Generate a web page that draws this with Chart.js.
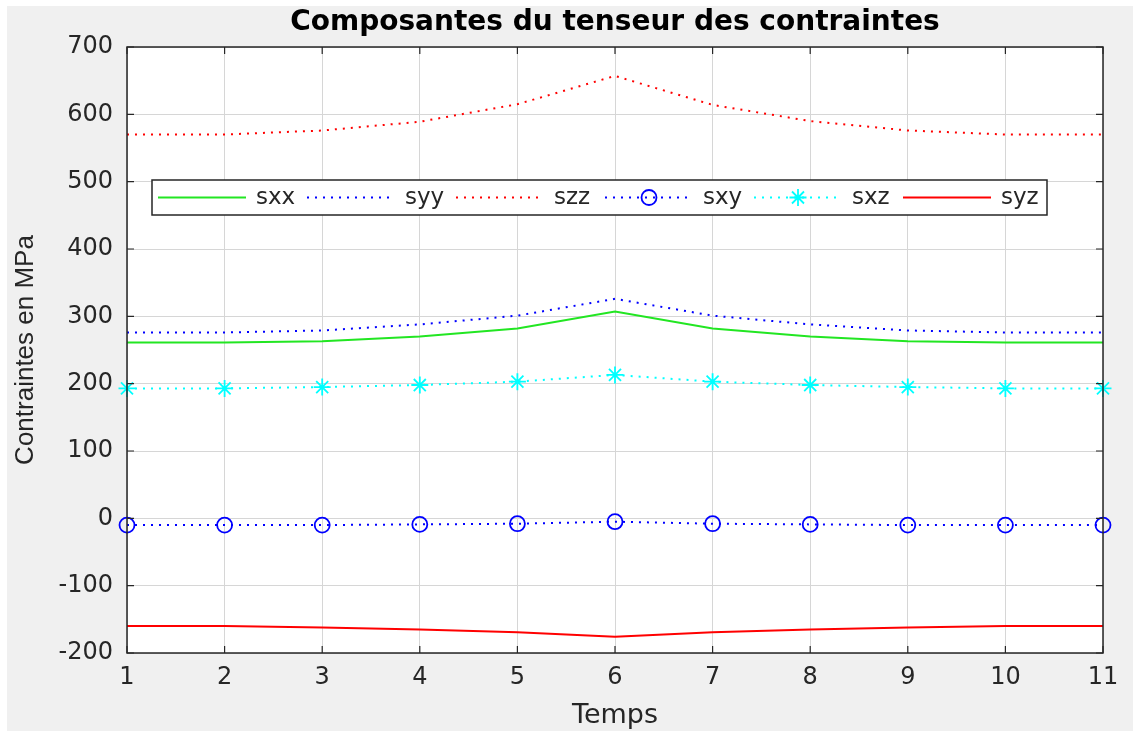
<!DOCTYPE html>
<html>
<head>
<meta charset="utf-8">
<script src="https://cdn.jsdelivr.net/npm/chart.js@4.4.1/dist/chart.umd.min.js"></script>
<style>
  html, body { margin: 0; padding: 0; background: #ffffff; }
  #wrap { position: absolute; left: 7px; top: 6px; width: 1126px; height: 725px; background: #f0f0f0; }
</style>
</head>
<body>
<div id="wrap"><canvas id="chart" width="1126" height="725"></canvas></div>
<script>
// --- DATA ---
const temps = [1, 2, 3, 4, 5, 6, 7, 8, 9, 10, 11];
const sxx = [261, 261, 263, 270, 282, 307, 282, 270, 263, 261, 261];
const syy = [276, 276, 279, 288, 301, 326, 301, 288, 279, 276, 276];
const szz = [570, 570, 576, 589, 615, 657, 614, 590, 576, 570, 570];
const sxy = [-10, -10, -10, -9, -8, -5, -8, -9, -10, -10, -10];
const sxz = [193, 193, 195, 198, 203, 213, 203, 198, 195, 193, 193];
const syz = [-160, -160, -162, -165, -169, -176, -169, -165, -162, -160, -160];
const yTicks = [-200, -100, 0, 100, 200, 300, 400, 500, 600, 700];

const titleText = "Composantes du tenseur des contraintes";
const xLabel = "Temps";
const yLabel = "Contraintes en MPa";

const DOT = [2, 6];

// draws the MATLAB-like frame, titles and the inline legend
const decorPlugin = {
    id: "decor",
    beforeDraw(chart) {
        const ctx = chart.ctx;
        const a = chart.chartArea;
        ctx.save();
        ctx.fillStyle = "#f0f0f0";
        ctx.fillRect(0, 0, chart.width, chart.height);
        ctx.fillStyle = "#ffffff";
        ctx.fillRect(a.left, a.top, a.right - a.left, a.bottom - a.top);
        ctx.restore();
    },
    afterDraw(chart) {
        const ctx = chart.ctx;
        const a = chart.chartArea;
        const xs = chart.scales.x;
        const ys = chart.scales.y;
        ctx.save();

        // inner tick marks
        ctx.strokeStyle = "#262626";
        ctx.lineWidth = 1.2;
        const tl = 7;
        ctx.beginPath();
        temps.forEach((t, i) => {
            const px = xs.getPixelForValue(i);
            ctx.moveTo(px, a.bottom); ctx.lineTo(px, a.bottom - tl);
            ctx.moveTo(px, a.top); ctx.lineTo(px, a.top + tl);
        });
        yTicks.forEach(v => {
            const py = ys.getPixelForValue(v);
            ctx.moveTo(a.left, py); ctx.lineTo(a.left + tl, py);
            ctx.moveTo(a.right, py); ctx.lineTo(a.right - tl, py);
        });
        ctx.stroke();

        // frame
        ctx.lineWidth = 1.5;
        ctx.strokeRect(a.left, a.top, a.right - a.left, a.bottom - a.top);

        // title and axis labels
        ctx.fillStyle = "#000000";
        ctx.textAlign = "center";
        ctx.textBaseline = "middle";
        ctx.font = "bold 28px 'DejaVu Sans'";
        ctx.fillText(titleText, (a.left + a.right) / 2, 17);

        ctx.fillStyle = "#262626";
        ctx.font = "27px 'DejaVu Sans'";
        ctx.fillText(xLabel, (a.left + a.right) / 2, 710);

        ctx.save();
        ctx.translate(19, (a.top + a.bottom) / 2);
        ctx.rotate(-Math.PI / 2);
        ctx.font = "26px 'Liberation Sans'";
        ctx.fillText(yLabel, 0, 0);
        ctx.restore();

        // legend box
        const bx = 145, by = 174, bw = 895, bh = 35;
        ctx.fillStyle = "#ffffff";
        ctx.fillRect(bx, by, bw, bh);
        ctx.strokeStyle = "#262626";
        ctx.lineWidth = 1.5;
        ctx.strokeRect(bx, by, bw, bh);

        const cy = by + bh / 2;
        chart.data.datasets.forEach((ds, i) => {
            const x0 = 151 + i * 149;
            ctx.save();
            ctx.strokeStyle = ds.borderColor;
            ctx.lineWidth = ds.borderWidth;
            ctx.setLineDash(ds.borderDash || []);
            ctx.beginPath();
            ctx.moveTo(x0, cy);
            ctx.lineTo(x0 + 88, cy);
            ctx.stroke();
            ctx.restore();
            if (ds.pointRadius > 0) {
                ctx.save();
                ctx.strokeStyle = ds.borderColor;
                ctx.fillStyle = "rgba(0,0,0,0)";
                ctx.lineWidth = ds.pointBorderWidth;
                Chart.helpers.drawPoint(ctx, {
                    pointStyle: ds.pointStyle,
                    radius: ds.pointRadius,
                    borderWidth: ds.pointBorderWidth,
                    rotation: 0
                }, x0 + 44, cy);
                ctx.restore();
            }
            ctx.fillStyle = "#262626";
            ctx.textAlign = "left";
            ctx.font = "23px 'DejaVu Sans'";
            ctx.fillText(ds.label, x0 + 98, cy + 1);
        });

        ctx.restore();
    }
};

function line(label, data, color, dash, pointStyle, radius) {
    return {
        label: label,
        data: data,
        borderColor: color,
        backgroundColor: "rgba(0,0,0,0)",
        borderWidth: 2,
        borderDash: dash,
        pointStyle: pointStyle || "circle",
        pointRadius: radius || 0,
        pointHoverRadius: radius || 0,
        pointBorderColor: color,
        pointBackgroundColor: "rgba(0,0,0,0)",
        pointBorderWidth: 1.8,
        tension: 0,
        clip: false
    };
}

new Chart(document.getElementById("chart").getContext("2d"), {
    type: "line",
    data: {
        labels: temps.map(String),
        datasets: [
            line("sxx", sxx, "#22e622", []),
            line("syy", syy, "#0000ff", DOT),
            line("szz", szz, "#ff0000", DOT),
            line("sxy", sxy, "#0000ff", DOT, "circle", 7.5),
            line("sxz", sxz, "#00ffff", DOT, "star", 8.5),
            line("syz", syz, "#ff0000", [])
        ]
    },
    options: {
        responsive: false,
        animation: false,
        events: [],
        layout: { padding: { left: 0, top: 41, right: 30, bottom: 0 } },
        plugins: {
            legend: { display: false },
            title: { display: false },
            tooltip: { enabled: false }
        },
        scales: {
            x: {
                offset: false,
                grid: { color: "#d6d6d6", lineWidth: 1, drawTicks: false },
                border: { display: false },
                ticks: {
                    color: "#262626",
                    font: { family: "'DejaVu Sans'", size: 24 },
                    padding: 10,
                    maxRotation: 0,
                    autoSkip: false
                },
                afterFit: s => { s.height = 78; }
            },
            y: {
                min: -200,
                max: 700,
                grid: { color: "#d6d6d6", lineWidth: 1, drawTicks: false },
                border: { display: false },
                ticks: {
                    stepSize: 100,
                    color: "#262626",
                    font: { family: "'DejaVu Sans'", size: 24 },
                    padding: 14
                },
                afterFit: s => { s.width = 120; }
            }
        }
    },
    plugins: [decorPlugin]
});
</script>
</body>
</html>
